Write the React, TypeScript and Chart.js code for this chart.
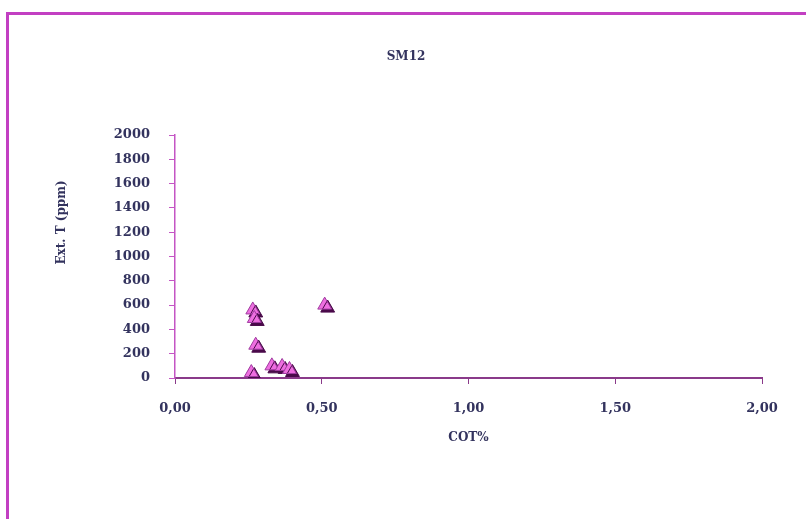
import React, { useEffect, useRef } from "react";
import { Chart, registerables } from "chart.js";

Chart.register(...registerables);

const chartTitle = "SM12";
const xTitle = "COT%";
const yTitle = "Ext. T (ppm)";
const cotValues = [0.265, 0.27, 0.275, 0.26, 0.33, 0.365, 0.39, 0.51];
const extTValues = [560, 490, 270, 45, 100, 95, 70, 600];
const xTickStep = 0.5;
const yTickStep = 200;

const FONT = "'DejaVu Serif', serif";
const TEXT = "#33335e";

const decorPlugin = {
  id: "decor",
  beforeDraw(chart: any) {
    const { ctx, width, height } = chart;
    ctx.save();
    ctx.fillStyle = "#ffffff";
    ctx.fillRect(0, 0, width, height);
    ctx.strokeStyle = "#c23fc2";
    ctx.lineWidth = 3;
    ctx.beginPath();
    ctx.moveTo(7.5, height + 5);
    ctx.lineTo(7.5, 13.5);
    ctx.lineTo(width + 5, 13.5);
    ctx.stroke();
    ctx.restore();
  },
  afterDraw(chart: any) {
    const { ctx, width, chartArea } = chart;
    ctx.save();
    ctx.fillStyle = TEXT;
    ctx.font = `bold 12px ${FONT}`;
    ctx.textAlign = "center";
    ctx.textBaseline = "middle";
    ctx.fillText(chartTitle, width / 2 + 3, 57);
    ctx.translate(62, chartArea.top + (chartArea.bottom - chartArea.top) * 0.36);
    ctx.rotate(-Math.PI / 2);
    ctx.fillText(yTitle, 0, 0);
    ctx.restore();
  },
  beforeDatasetDraw(chart: any) {
    const ctx = chart.ctx;
    ctx.save();
    ctx.shadowColor = "#4a0a4a";
    ctx.shadowOffsetX = 3;
    ctx.shadowOffsetY = 3;
    ctx.shadowBlur = 0;
  },
  afterDatasetDraw(chart: any) {
    chart.ctx.restore();
  },
};

export default function App() {
  const ref = useRef<HTMLCanvasElement | null>(null);

  useEffect(() => {
    document.body.style.margin = "0";
    const canvas = ref.current;
    if (!canvas) return;
    const data = cotValues.map((x, i) => ({ x, y: extTValues[i] }));
    const chart = new Chart(canvas, {
      type: "scatter",
      data: {
        datasets: [
          {
            label: chartTitle,
            data,
            pointStyle: "triangle",
            pointRadius: 8,
            pointBackgroundColor: "#ee6ee0",
            pointBorderColor: "#a03ca0",
            pointBorderWidth: 1,
          },
        ],
      },
      options: {
        animation: false,
        responsive: false,
        maintainAspectRatio: false,
        layout: { padding: { top: 135, right: 44, left: 0, bottom: 0 } },
        plugins: {
          legend: { display: false },
          tooltip: { enabled: false },
          title: { display: false },
        },
        scales: {
          x: {
            type: "linear",
            min: 0,
            max: 2,
            afterFit: (s: any) => {
              s.height = 141;
            },
            ticks: {
              stepSize: xTickStep,
              padding: 17,
              color: TEXT,
              font: { family: FONT, size: 13, weight: "bold" },
              callback: (v: any) => Number(v).toFixed(2).replace(".", ","),
              maxRotation: 0,
            },
            grid: {
              drawOnChartArea: false,
              drawTicks: true,
              tickLength: 6,
              color: "#8a3a8a",
            },
            border: { color: "#8a3a8a", width: 2 },
            title: {
              display: true,
              text: xTitle,
              color: TEXT,
              font: { family: FONT, size: 12, weight: "bold" },
              padding: { top: 0, bottom: 74 },
            },
          },
          y: {
            type: "linear",
            min: 0,
            max: 2000,
            afterFit: (s: any) => {
              s.width = 175;
            },
            ticks: {
              stepSize: yTickStep,
              padding: 19,
              color: TEXT,
              font: { family: FONT, size: 13, weight: "bold" },
              callback: (v: any) => String(v),
            },
            grid: {
              drawOnChartArea: false,
              drawTicks: true,
              tickLength: 6,
              color: "#c455c4",
            },
            border: { color: "#c455c4", width: 1.5 },
          },
        },
      },
      plugins: [decorPlugin],
    });
    return () => chart.destroy();
  }, []);

  return (
    <div style={{ width: 806, height: 519 }}>
      <canvas ref={ref} width={806} height={519} style={{ display: "block" }} />
    </div>
  );
}
